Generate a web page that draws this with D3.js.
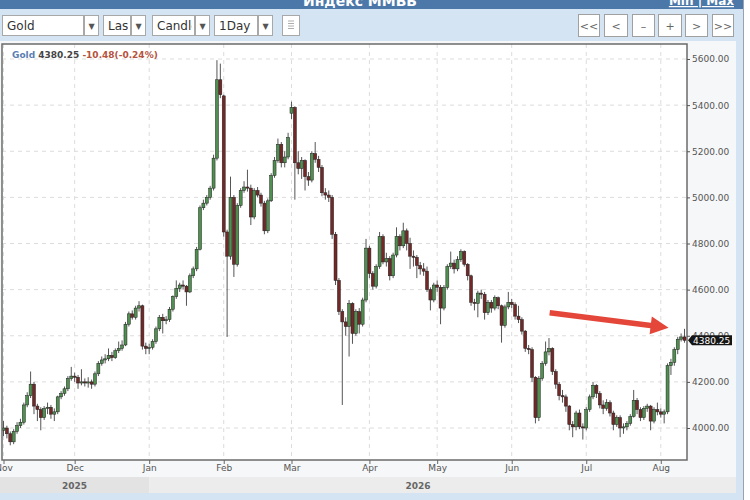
<!DOCTYPE html>
<html>
<head>
<meta charset="utf-8">
<script src="https://d3js.org/d3.v7.min.js"></script>
<style>
  body { margin: 0; background: #fff; }
  svg { display: block; font-family: "DejaVu Sans", sans-serif; }
</style>
</head>
<body>
<div id="chart"></div>
<script>
//
// Gold daily candlestick chart (Nov 2025 - Aug 2026)
//

////////////////////////////////////////////////////////////////////////
// Data

let symbol = "Gold";
let lastPrice = 4380.25;
let changeText = "-10.48(-0.24%)";

// month labels and the candle index where each month begins
let months = ["Nov", "Dec", "Jan", "Feb", "Mar", "Apr", "May", "Jun", "Jul", "Aug"];
let monthIdx = [0, 21, 43, 65, 85, 108, 128, 150, 172, 194];

let years = ["2025", "2026"];
let yearIdx = [0, 43];

let yTicks = [4000, 4200, 4400, 4600, 4800, 5000, 5200, 5400, 5600];

// daily OHLC, one value per trading day
let opens = [
  3990,4000,3975,3940,3985,4010,4025,4100,4140,4190,
  4095,4080,4045,4085,4090,4060,4070,4135,4150,4170,
  4215,4225,4220,4195,4200,4195,4200,4190,4235,4280,
  4295,4300,4315,4305,4335,4345,4360,4450,4495,4480,
  4520,4530,4355,4345,4350,4375,4430,4480,4465,4470,
  4515,4570,4605,4620,4615,4590,4660,4690,4775,4955,
  4975,5000,5040,5170,5510,5440,4850,4745,5000,4710,
  4965,5030,5045,5040,4915,5030,5010,4975,4855,4985,
  5095,5160,5230,5150,5175,5365,5390,5150,5125,5160,
  5090,5075,5190,5165,5130,5020,5010,5000,4840,4640,
  4505,4460,4440,4540,4410,4505,4450,4555,4780,4670,
  4615,4700,4830,4720,4735,4660,4750,4830,4790,4855,
  4800,4745,4740,4705,4690,4680,4600,4555,4620,4610,
  4520,4610,4700,4715,4690,4730,4765,4710,4660,4545,
  4540,4585,4580,4500,4545,4520,4565,4530,4445,4525,
  4545,4535,4485,4470,4420,4345,4340,4220,4045,4215,
  4280,4330,4345,4245,4190,4140,4135,4095,4015,4005,
  4065,4005,4000,4080,4135,4185,4150,4100,4085,4110,
  4065,4015,4045,4000,4005,4020,4050,4120,4080,4045,
  4085,4095,4030,4080,4070,4060,4070,4270,4285,4340,
  4385,4395
];
let highs = [
  4030,4010,3985,3995,4025,4040,4110,4155,4245,4200,
  4105,4090,4095,4110,4100,4085,4140,4160,4180,4225,
  4265,4240,4230,4255,4215,4220,4210,4245,4290,4310,
  4320,4345,4330,4345,4375,4380,4460,4505,4510,4530,
  4550,4535,4370,4365,4385,4440,4490,4495,4485,4525,
  4575,4640,4630,4640,4620,4670,4700,4785,4965,4990,
  5010,5050,5185,5595,5580,5445,4860,5090,5010,4975,
  5040,5070,5120,5055,5040,5045,5020,4985,4995,5105,
  5175,5255,5240,5200,5280,5415,5395,5200,5175,5165,
  5110,5200,5240,5180,5140,5040,5030,5010,4850,4650,
  4515,4480,4555,4545,4515,4520,4565,4820,4790,4680,
  4710,4850,4840,4760,4745,4760,4870,4840,4890,4865,
  4825,4770,4750,4720,4715,4700,4610,4630,4640,4620,
  4620,4710,4765,4730,4745,4775,4770,4715,4665,4560,
  4595,4600,4590,4555,4555,4575,4570,4535,4535,4590,
  4560,4545,4530,4480,4425,4360,4350,4225,4225,4290,
  4375,4390,4350,4255,4200,4165,4145,4100,4030,4075,
  4080,4020,4090,4145,4200,4190,4160,4120,4125,4120,
  4075,4055,4055,4020,4030,4060,4165,4130,4090,4095,
  4105,4100,4090,4110,4085,4080,4280,4300,4350,4395,
  4410,4430
];
let lows = [
  3965,3955,3925,3930,3975,4000,4015,4090,4130,4060,
  4030,3990,4035,4060,4040,4030,4060,4125,4140,4160,
  4205,4200,4170,4185,4180,4175,4170,4180,4225,4270,
  4280,4290,4290,4300,4325,4335,4355,4440,4470,4470,
  4505,4340,4320,4320,4340,4365,4420,4410,4450,4460,
  4505,4560,4590,4600,4530,4585,4650,4680,4770,4945,
  4965,4990,5030,5160,5430,4830,4395,4730,4655,4700,
  4955,5020,5025,4880,4905,5000,4960,4840,4845,4980,
  5085,5150,5130,5130,5165,5340,4990,5100,5080,5030,
  5050,5065,5150,5110,5005,4990,4980,4820,4620,4490,
  4100,4400,4310,4365,4400,4410,4440,4545,4650,4600,
  4605,4690,4710,4700,4640,4650,4740,4770,4780,4770,
  4690,4700,4650,4665,4660,4590,4510,4545,4590,4450,
  4510,4600,4690,4670,4680,4720,4700,4640,4530,4510,
  4480,4560,4470,4490,4500,4510,4515,4370,4435,4515,
  4520,4470,4455,4405,4330,4320,4200,4020,4030,4205,
  4270,4315,4230,4170,4120,4110,4070,3990,3960,3990,
  3995,3950,3990,4070,4125,4130,4085,4060,4075,4050,
  3990,4005,3960,3975,3990,4010,4045,4060,4030,4035,
  4070,3990,4020,4055,4045,4020,4060,4230,4270,4320,
  4375,4370
];
let closes = [
  4000,3975,3940,3985,4010,4025,4100,4140,4190,4095,
  4080,4045,4085,4090,4060,4070,4135,4150,4170,4215,
  4225,4220,4195,4200,4195,4200,4190,4235,4280,4295,
  4300,4315,4305,4335,4345,4360,4450,4495,4480,4520,
  4530,4355,4345,4350,4375,4430,4480,4465,4470,4515,
  4570,4605,4620,4615,4590,4660,4690,4775,4955,4975,
  5000,5040,5170,5510,5445,4850,4745,5000,4710,4965,
  5030,5045,5040,4915,5030,5010,4975,4855,4985,5095,
  5160,5230,5150,5175,5260,5390,5150,5125,5160,5090,
  5075,5190,5165,5130,5020,5010,5000,4840,4640,4505,
  4460,4440,4540,4410,4505,4450,4555,4780,4670,4615,
  4700,4830,4720,4735,4660,4750,4830,4790,4855,4800,
  4745,4740,4705,4690,4680,4600,4555,4620,4610,4520,
  4610,4700,4715,4690,4730,4765,4710,4660,4545,4540,
  4585,4580,4500,4545,4520,4565,4530,4445,4525,4545,
  4535,4485,4470,4420,4345,4340,4220,4045,4215,4280,
  4330,4345,4245,4190,4140,4135,4095,4015,4005,4065,
  4005,4000,4080,4135,4185,4150,4100,4085,4110,4065,
  4015,4045,4000,4005,4020,4050,4120,4080,4045,4085,
  4095,4030,4080,4070,4060,4070,4270,4285,4340,4385,
  4395,4380.25
];

// red annotation arrow, [candle index, price]
let arrowFrom = [161.2, 4500];
let arrowTo = [196.3, 4435];

// toolbar
let dropdowns = ["Gold", "Last", "Candles", "1Day"];
let navButtons = ["<<", "<", "\u2013", "+", ">", ">>"];


////////////////////////////////////////////////////////////////////////
// Layout

let width = 750;
let height = 500;
let plot = { left: 2, right: 687, top: 44, bottom: 460 };

let svg = d3.select("#chart")
  .append("svg")
  .attr("width", width).attr("height", height);

let candles = closes.map(function(c, i) {
  return { i: i, o: opens[i], h: highs[i], l: lows[i], c: c };
});

let xScale = d3.scaleLinear()
  .domain([0, closes.length - 1])
  .range([3.5, 684.5]);

let yScale = d3.scaleLinear()
  .domain([4000, 5600])
  .range([428, 59]);


////////////////////////////////////////////////////////////////////////
// Frame, header and toolbar

svg.append("rect").attr("x", 0).attr("y", 0).attr("width", 743).attr("height", height)
  .attr("fill", "#d5e4f3");
svg.append("rect").attr("x", 0).attr("y", 0).attr("width", 743).attr("height", 9)
  .attr("fill", "#4b78a9");
svg.append("line").attr("x1", 743.5).attr("x2", 743.5).attr("y1", 0).attr("y2", height)
  .attr("stroke", "#9aa3ad");

svg.append("text")
  .attr("x", 360).attr("y", 5.5)
  .attr("text-anchor", "middle")
  .style("font-size", "14px").style("font-weight", "bold")
  .attr("fill", "#fff")
  .text("Индекс ММВБ");

svg.append("text")
  .attr("x", 734).attr("y", 5)
  .attr("text-anchor", "end")
  .style("font-size", "12px").style("font-weight", "bold")
  .style("text-decoration", "underline")
  .attr("fill", "#fff")
  .text("Min | Max");

// dropdown boxes (text box + arrow box)
let ddX = [2, 103, 152, 214];
let ddW = [81, 27, 42, 43];
let defs = svg.append("defs");

dropdowns.forEach(function(label, k) {
  let g = svg.append("g").attr("transform", "translate(" + ddX[k] + ",15)");
  defs.append("clipPath").attr("id", "ddclip" + k)
    .append("rect").attr("x", 0).attr("y", 0).attr("width", ddW[k] - 2).attr("height", 21);
  g.append("rect").attr("x", 0.5).attr("y", 0.5).attr("width", ddW[k]).attr("height", 20)
    .attr("fill", "#fff").attr("stroke", "#a8a8a8");
  g.append("text")
    .attr("x", 5).attr("y", 15)
    .attr("clip-path", "url(#ddclip" + k + ")")
    .style("font-size", "12px").attr("fill", "#333")
    .text(label);
  g.append("rect").attr("x", ddW[k] + 1.5).attr("y", 0.5).attr("width", 14).attr("height", 20)
    .attr("fill", "#fff").attr("stroke", "#a8a8a8");
  g.append("text")
    .attr("x", ddW[k] + 8.5).attr("y", 14)
    .attr("text-anchor", "middle")
    .style("font-size", "8px").attr("fill", "#555")
    .text("\u25BC");
});

// small settings button
let ib = svg.append("g").attr("transform", "translate(282,15)");
ib.append("rect").attr("x", 0.5).attr("y", 0.5).attr("width", 17).attr("height", 20)
  .attr("fill", "#fff").attr("stroke", "#a8a8a8");
[6, 8.5, 11, 13.5].forEach(function(yy) {
  ib.append("line").attr("x1", 6).attr("x2", 12).attr("y1", yy).attr("y2", yy)
    .attr("stroke", "#999").attr("stroke-width", 0.8);
});

// navigation buttons
let navX = [578, 604, 632, 658, 685, 712];
let navW = [21, 23, 22, 23, 22, 21];
navButtons.forEach(function(label, k) {
  svg.append("rect")
    .attr("x", navX[k] + 0.5).attr("y", 14.5)
    .attr("width", navW[k]).attr("height", 22)
    .attr("fill", "#fff").attr("stroke", "#a0a0a0");
  svg.append("text")
    .attr("x", navX[k] + navW[k] / 2 + 0.5).attr("y", 29.5)
    .attr("text-anchor", "middle")
    .style("font-size", "11px").attr("fill", "#666")
    .text(label);
});


////////////////////////////////////////////////////////////////////////
// Chart panel

svg.append("rect").attr("x", 0).attr("y", 41).attr("width", 736).attr("height", 452)
  .attr("fill", "#f6f7f8");

// year band
years.forEach(function(yr, k) {
  let x0 = k == 0 ? 0 : xScale(yearIdx[k]);
  let x1 = k + 1 < years.length ? xScale(yearIdx[k + 1]) : 736;
  svg.append("rect").attr("x", x0).attr("y", 477).attr("width", x1 - x0).attr("height", 16)
    .attr("fill", k == 0 ? "#e3e3e3" : "#ececec");
  let cx = (x0 + Math.min(x1, plot.right)) / 2;
  svg.append("text")
    .attr("x", cx).attr("y", 489)
    .attr("text-anchor", "middle")
    .style("font-size", "9px").style("font-weight", "bold")
    .attr("fill", "#666")
    .text(yr);
});

svg.append("rect")
  .attr("x", plot.left).attr("y", plot.top)
  .attr("width", plot.right - plot.left).attr("height", plot.bottom - plot.top)
  .attr("fill", "#fff");

defs.append("clipPath").attr("id", "plotClip")
  .append("rect")
  .attr("x", plot.left).attr("y", plot.top)
  .attr("width", plot.right - plot.left).attr("height", plot.bottom - plot.top);

// grid
let grid = svg.append("g").attr("clip-path", "url(#plotClip)");
grid.selectAll(".hgrid")
  .data(yTicks)
  .enter()
  .append("line")
  .attr("class", "hgrid")
  .attr("x1", plot.left).attr("x2", plot.right)
  .attr("y1", function(d) { return yScale(d); })
  .attr("y2", function(d) { return yScale(d); })
  .attr("stroke", "#dcdcdc").attr("stroke-dasharray", "4,4");
grid.selectAll(".vgrid")
  .data(monthIdx)
  .enter()
  .append("line")
  .attr("class", "vgrid")
  .attr("x1", function(d) { return xScale(d); })
  .attr("x2", function(d) { return xScale(d); })
  .attr("y1", plot.top).attr("y2", plot.bottom)
  .attr("stroke", "#dcdcdc").attr("stroke-dasharray", "4,4");


////////////////////////////////////////////////////////////////////////
// Candles

let cg = svg.append("g").attr("clip-path", "url(#plotClip)");

cg.selectAll(".wick")
  .data(candles)
  .enter()
  .append("line")
  .attr("class", "wick")
  .attr("x1", function(d) { return xScale(d.i); })
  .attr("x2", function(d) { return xScale(d.i); })
  .attr("y1", function(d) { return yScale(d.h); })
  .attr("y2", function(d) { return yScale(d.l); })
  .attr("stroke", "#555").attr("stroke-width", 1);

cg.selectAll(".body")
  .data(candles)
  .enter()
  .append("rect")
  .attr("class", "body")
  .attr("x", function(d) { return xScale(d.i) - 1.5; })
  .attr("width", 3)
  .attr("y", function(d) { return yScale(Math.max(d.o, d.c)); })
  .attr("height", function(d) { return Math.max(1, Math.abs(yScale(d.o) - yScale(d.c))); })
  .attr("fill", function(d) { return d.c >= d.o ? "#4f8f4f" : "#732828"; })
  .attr("stroke", "#1e1e1e").attr("stroke-width", 0.5);

svg.append("rect")
  .attr("x", plot.left).attr("y", plot.top)
  .attr("width", plot.right - plot.left).attr("height", plot.bottom - plot.top)
  .attr("fill", "none").attr("stroke", "#6b6b6b").attr("stroke-width", 1.5);


////////////////////////////////////////////////////////////////////////
// Axes

let yAxis = d3.axisRight(yScale)
  .tickValues(yTicks)
  .tickSize(3)
  .tickPadding(2)
  .tickFormat(d3.format(".2f"));

let yg = svg.append("g")
  .attr("transform", "translate(" + plot.right + ",0)")
  .call(yAxis);
yg.select(".domain").remove();
yg.selectAll("line").attr("stroke", "#555");
yg.selectAll("text")
  .style("font-family", "DejaVu Sans").style("font-size", "9px")
  .attr("fill", "#555");

let xAxis = d3.axisBottom(xScale)
  .tickValues(monthIdx)
  .tickSize(4)
  .tickPadding(1)
  .tickFormat(function(d, i) { return months[i]; });

let xg = svg.append("g")
  .attr("transform", "translate(0," + plot.bottom + ")")
  .call(xAxis);
xg.select(".domain").remove();
xg.selectAll("line").attr("stroke", "#666");
xg.selectAll("text")
  .style("font-family", "DejaVu Sans").style("font-size", "9px")
  .attr("fill", "#555");

// last price tag
let yl = yScale(lastPrice);
svg.append("path")
  .attr("d", "M" + (plot.right + 1) + "," + yl +
             "L" + (plot.right + 5) + "," + (yl - 5) +
             "L" + (plot.right + 45) + "," + (yl - 5) +
             "L" + (plot.right + 45) + "," + (yl + 5) +
             "L" + (plot.right + 5) + "," + (yl + 5) + "Z")
  .attr("fill", "#151515");
svg.append("text")
  .attr("x", plot.right + 6).attr("y", yl + 3.3)
  .style("font-size", "9px").attr("fill", "#fff")
  .text(d3.format(".2f")(lastPrice));


////////////////////////////////////////////////////////////////////////
// Legend

let legend = svg.append("text")
  .attr("x", 12).attr("y", 57.5)
  .style("font-size", "9px").style("font-weight", "bold");
legend.append("tspan").attr("fill", "#5a7db3").text(symbol + " ");
legend.append("tspan").attr("fill", "#444").text(d3.format(".2f")(lastPrice) + " ");
legend.append("tspan").attr("fill", "#b5533c").text(changeText);


////////////////////////////////////////////////////////////////////////
// Red annotation arrow

let ax0 = xScale(arrowFrom[0]), ay0 = yScale(arrowFrom[1]);
let ax1 = xScale(arrowTo[0]), ay1 = yScale(arrowTo[1]);
let ang = Math.atan2(ay1 - ay0, ax1 - ax0);
let headLen = 18, headHalf = 9;
let bx = ax1 - headLen * Math.cos(ang), by = ay1 - headLen * Math.sin(ang);

svg.append("line")
  .attr("x1", ax0).attr("y1", ay0)
  .attr("x2", bx + 2 * Math.cos(ang)).attr("y2", by + 2 * Math.sin(ang))
  .attr("stroke", "#e4463a").attr("stroke-width", 5.5);

svg.append("polygon")
  .attr("points", [
    [ax1, ay1],
    [bx + headHalf * Math.sin(ang), by - headHalf * Math.cos(ang)],
    [bx - headHalf * Math.sin(ang), by + headHalf * Math.cos(ang)]
  ].map(function(p) { return p.join(","); }).join(" "))
  .attr("fill", "#e4463a");
</script>
</body>
</html>
